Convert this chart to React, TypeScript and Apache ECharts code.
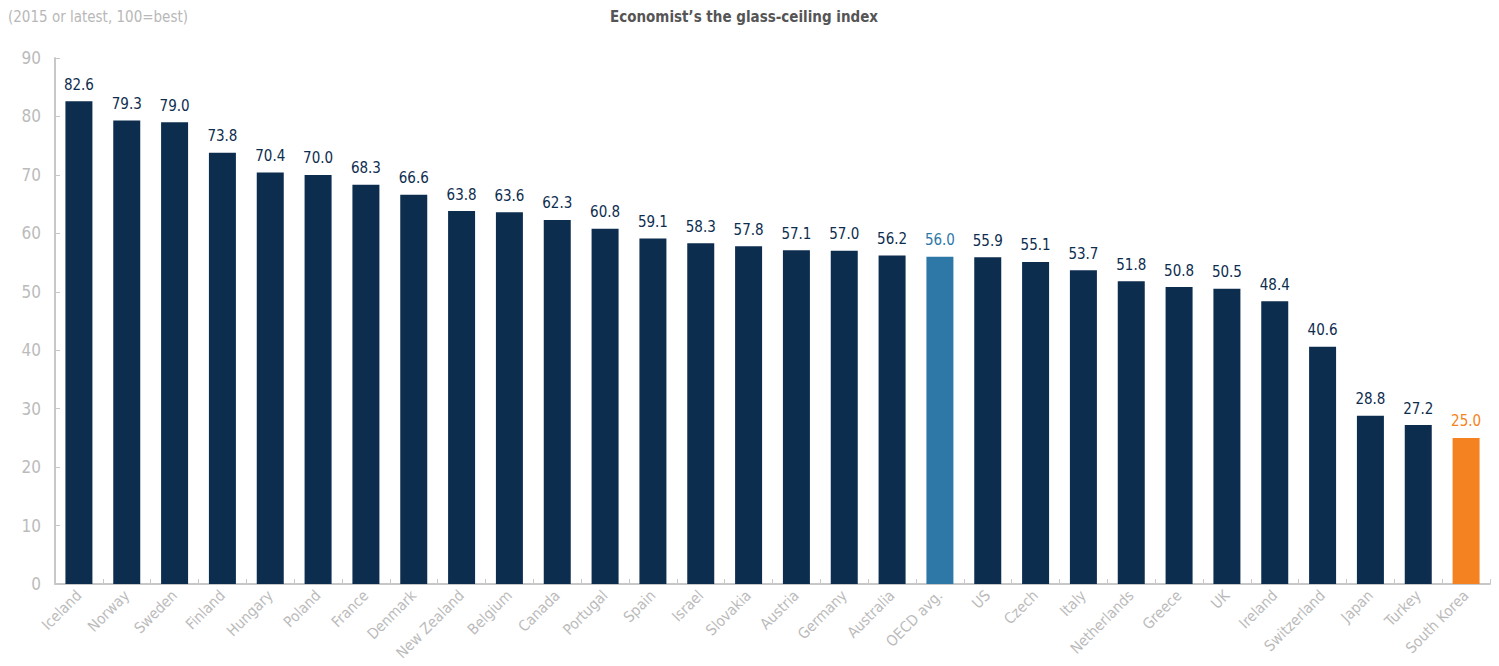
import React, { useEffect, useRef } from "react";
import * as echarts from "echarts";

const categories = ["Iceland","Norway","Sweden","Finland","Hungary","Poland","France","Denmark","New Zealand","Belgium","Canada","Portugal","Spain","Israel","Slovakia","Austria","Germany","Australia","OECD avg.","US","Czech","Italy","Netherlands","Greece","UK","Ireland","Switzerland","Japan","Turkey","South Korea"];
const values = [82.6,79.3,79.0,73.8,70.4,70.0,68.3,66.6,63.8,63.6,62.3,60.8,59.1,58.3,57.8,57.1,57.0,56.2,56.0,55.9,55.1,53.7,51.8,50.8,50.5,48.4,40.6,28.8,27.2,25.0];
const yTicks = [0, 10, 20, 30, 40, 50, 60, 70, 80, 90];

const NAVY = "#0d2d4f";
const OECD = "#2e78a8";
const KOREA = "#f58220";
const FONT = "'DejaVu Sans Condensed', 'Liberation Sans', sans-serif";

export default function App() {
  const ref = useRef<HTMLDivElement>(null);
  useEffect(() => {
    if (!ref.current) return;
    const chart = echarts.init(ref.current, null, { renderer: "svg" });
    const colorFor = (name: string) => (name === "OECD avg." ? OECD : name === "South Korea" ? KOREA : NAVY);
    chart.setOption({
      animation: false,
      backgroundColor: "#ffffff",
      title: [
        {
          text: "Economist\u2019s the glass-ceiling index",
          left: 744,
          textAlign: "center",
          top: 9,
          padding: 0,
          textStyle: { fontFamily: FONT, fontSize: 15, fontWeight: "bold", color: "#555555" },
        },
        {
          text: "(2015 or latest, 100=best)",
          left: 8,
          top: 9,
          padding: 0,
          textStyle: { fontFamily: FONT, fontSize: 15, fontWeight: "normal", color: "#b8b8b8" },
        },
      ],
      grid: { left: 55, right: 9, top: 58, bottom: 82, containLabel: false, outerBoundsMode: "none" },
      xAxis: {
        type: "category",
        data: categories,
        axisLine: { lineStyle: { color: "#c8c8c8", width: 2 } },
        axisTick: { show: true, inside: true, length: 5, lineStyle: { color: "#c8c8c8" } },
        axisLabel: {
          interval: 0,
          rotate: 45,
          margin: 9,
          fontFamily: FONT,
          fontSize: 15,
          color: "#bbbbbb",
        },
      },
      yAxis: {
        type: "value",
        min: 0,
        max: yTicks[yTicks.length - 1],
        interval: 10,
        axisLine: { show: true, lineStyle: { color: "#c8c8c8", width: 2 } },
        axisTick: { show: true, inside: true, length: 5, lineStyle: { color: "#c8c8c8" } },
        splitLine: { show: false },
        axisLabel: { margin: 14, fontFamily: FONT, fontSize: 17, color: "#bbbbbb" },
      },
      series: [
        {
          type: "bar",
          barWidth: 27,
          data: values.map((v, i) => ({
            value: v,
            itemStyle: { color: colorFor(categories[i]) },
            label: { color: colorFor(categories[i]) },
          })),
          label: {
            show: true,
            position: "top",
            distance: 9,
            formatter: (p: any) => Number(p.value).toFixed(1),
            fontFamily: FONT,
            fontSize: 15,
          },
        },
      ],
    });
    return () => chart.dispose();
  }, []);
  return <div ref={ref} style={{ position: "fixed", left: 0, top: 0, width: 1499, height: 666 }} />;
}
